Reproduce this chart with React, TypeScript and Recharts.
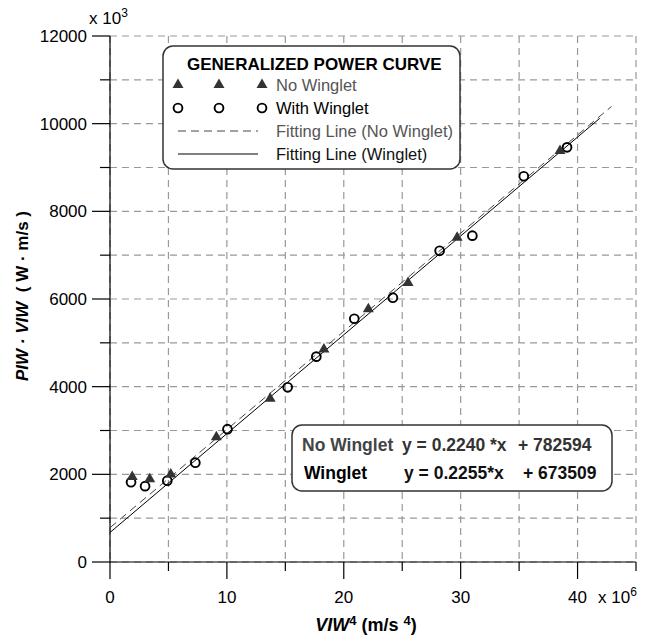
import React from 'react'
import { ScatterChart, Scatter, XAxis, YAxis, CartesianGrid, ReferenceLine, Customized } from 'recharts'

// x in 10^6 m/s^4, y in 10^3 W·m/s
const xTicks = [0, 5, 10, 15, 20, 25, 30, 35, 40, 45]
const yTicks = [0, 1000, 2000, 3000, 4000, 5000, 6000, 7000, 8000, 9000, 10000, 11000, 12000]

const noWingletX = [1.9, 3.4, 5.2, 9.1, 13.7, 18.3, 22.1, 25.5, 29.7, 38.5]
const noWingletY = [1960, 1910, 2020, 2870, 3750, 4870, 5790, 6390, 7420, 9400]

const wingletX = [1.8, 3.0, 4.9, 7.3, 10.05, 15.2, 17.65, 20.9, 24.2, 28.2, 31.0, 35.4, 39.1]
const wingletY = [1820, 1730, 1855, 2265, 3030, 3985, 4685, 5550, 6030, 7100, 7445, 8800, 9460]

// fitted lines: slope, intercept (already scaled to axis units), x range
const fitNoWinglet = [224.0, 782.594]
const fitNoWingletRange = [0, 42.9]
const fitWinglet = [225.5, 673.509]
const fitWingletRange = [0, 41.9]

const eqNoWinglet = ['No Winglet', 'y = 0.2240 *x', '+ 782594']
const eqWinglet = ['Winglet', 'y = 0.2255*x', '+ 673509']

const noWinglet = noWingletX.map((x, i) => ({ x, y: noWingletY[i] }))
const winglet = wingletX.map((x, i) => ({ x, y: wingletY[i] }))

const seg = (f: number[], r: number[]) => r.map(x => ({ x, y: f[0] * x + f[1] }))

const font = '"Liberation Sans", Arial, Helvetica, sans-serif'

const Tri = (p: any) => (
  <polygon points={`${p.cx},${p.cy - 5.5} ${p.cx + 5.5},${p.cy + 4} ${p.cx - 5.5},${p.cy + 4}`} fill="#333" />
)
const Ring = (p: any) => <circle cx={p.cx} cy={p.cy} r={4.4} fill="none" stroke="#000" strokeWidth={1.9} />

const XTick = (p: any) => {
  const v = p.payload.value
  const major = v % 10 === 0
  return (
    <g>
      <line x1={p.x} y1={p.y} x2={p.x} y2={p.y + (major ? 17 : 9)} stroke="#000" strokeWidth={1.2} />
      {major && v <= 40 && (
        <text x={p.x} y={p.y + 41} textAnchor="middle" fontSize={17} fontFamily={font} fill="#000">{v}</text>
      )}
    </g>
  )
}

const YTick = (p: any) => {
  const v = p.payload.value
  const major = v % 2000 === 0
  return (
    <g>
      <line x1={p.x - (major ? 18 : 10)} y1={p.y} x2={p.x} y2={p.y} stroke="#000" strokeWidth={1.2} />
      {major && (
        <text x={p.x - 23} y={p.y} dy="0.35em" textAnchor="end" fontSize={17} fontFamily={font} fill="#000">{v}</text>
      )}
    </g>
  )
}

const Overlay = () => (
  <g fontFamily={font}>
    <text x={89} y={24} fontSize={17} fill="#000">x 10<tspan fontSize={12} dy={-7}>3</tspan></text>
    <text x={598} y={603} fontSize={17} fill="#000">x 10<tspan fontSize={12} dy={-7}>6</tspan></text>
    <text x={366} y={631} textAnchor="middle" fontSize={18} fontWeight="bold" fill="#000" style={{ whiteSpace: 'pre' }}>
      <tspan fontStyle="italic">VIW</tspan>
      <tspan fontSize={13} dy={-6}>4</tspan>
      <tspan dy={6}> (m/s </tspan>
      <tspan fontSize={13} dy={-6}>4</tspan>
      <tspan dy={6}>)</tspan>
    </text>
    <text x={22} y={296} transform="rotate(-90 22 296)" textAnchor="middle" dominantBaseline="central"
      fontSize={17} fontWeight="bold" fill="#000" style={{ whiteSpace: 'pre' }}>
      <tspan fontStyle="italic">PIW · VIW</tspan>
      <tspan>{'  ( W · m/s )'}</tspan>
    </text>

    {/* legend */}
    <rect x={163} y={46} width={297} height={123} rx={10} fill="#fff" stroke="#333" strokeWidth={1.5} />
    <text x={187} y={64} dominantBaseline="central" fontSize={17} fontWeight="bold" fill="#000">GENERALIZED POWER CURVE</text>
    {[178, 219, 262].map(x => <Tri key={'t' + x} cx={x} cy={84} />)}
    <text x={276} y={85} dominantBaseline="central" fontSize={16.5} fill="#555">No Winglet</text>
    {[178, 219, 262].map(x => <Ring key={'c' + x} cx={x} cy={108} />)}
    <text x={276} y={108} dominantBaseline="central" fontSize={16.5} fill="#000">With Winglet</text>
    <line x1={178} y1={131} x2={258} y2={131} stroke="#444" strokeWidth={1} strokeDasharray="8 5" />
    <text x={276} y={131} dominantBaseline="central" fontSize={16.5} fill="#555">Fitting Line (No Winglet)</text>
    <line x1={178} y1={154} x2={258} y2={154} stroke="#000" strokeWidth={1} />
    <text x={276} y={154} dominantBaseline="central" fontSize={16.5} fill="#111">Fitting Line (Winglet)</text>

    {/* equations */}
    <rect x={292} y={425} width={320} height={66} rx={10} fill="#fff" stroke="#333" strokeWidth={1.5} />
    <g fontSize={17.5} fontWeight="bold" dominantBaseline="central">
      <text x={302} y={445} fill="#444">{eqNoWinglet[0]}</text>
      <text x={402} y={445} fill="#333">{eqNoWinglet[1]}</text>
      <text x={518} y={445} fill="#333">{eqNoWinglet[2]}</text>
      <text x={304} y={473} fill="#000">{eqWinglet[0]}</text>
      <text x={404} y={473} fill="#111">{eqWinglet[1]}</text>
      <text x={523} y={473} fill="#111">{eqWinglet[2]}</text>
    </g>
  </g>
)

export default function App() {
  return (
    <div style={{ position: 'absolute', left: 0, top: 0, background: '#fff' }}>
      <ScatterChart width={646} height={637} margin={{ top: 36, right: 10, bottom: 35, left: 0 }}>
        <CartesianGrid stroke="#999" strokeWidth={1.2} strokeDasharray="7 5" />
        <XAxis type="number" dataKey="x" domain={[0, 45]} ticks={xTicks} interval={0} height={40}
          tickSize={0} tickMargin={0} tickLine={false} axisLine={{ stroke: '#000', strokeWidth: 1.2 }} tick={<XTick />} />
        <YAxis type="number" dataKey="y" domain={[0, 12000]} ticks={yTicks} interval={0} width={110}
          tickSize={0} tickMargin={0} tickLine={false} axisLine={{ stroke: '#000', strokeWidth: 1.2 }} tick={<YTick />} />
        <ReferenceLine segment={seg(fitNoWinglet, fitNoWingletRange)} stroke="#444" strokeWidth={1} strokeDasharray="8 5" ifOverflow="visible" />
        <ReferenceLine segment={seg(fitWinglet, fitWingletRange)} stroke="#000" strokeWidth={1} ifOverflow="visible" />
        <Scatter data={winglet} shape={Ring} isAnimationActive={false} />
        <Scatter data={noWinglet} shape={Tri} isAnimationActive={false} />
        <Customized component={Overlay} />
      </ScatterChart>
    </div>
  )
}
